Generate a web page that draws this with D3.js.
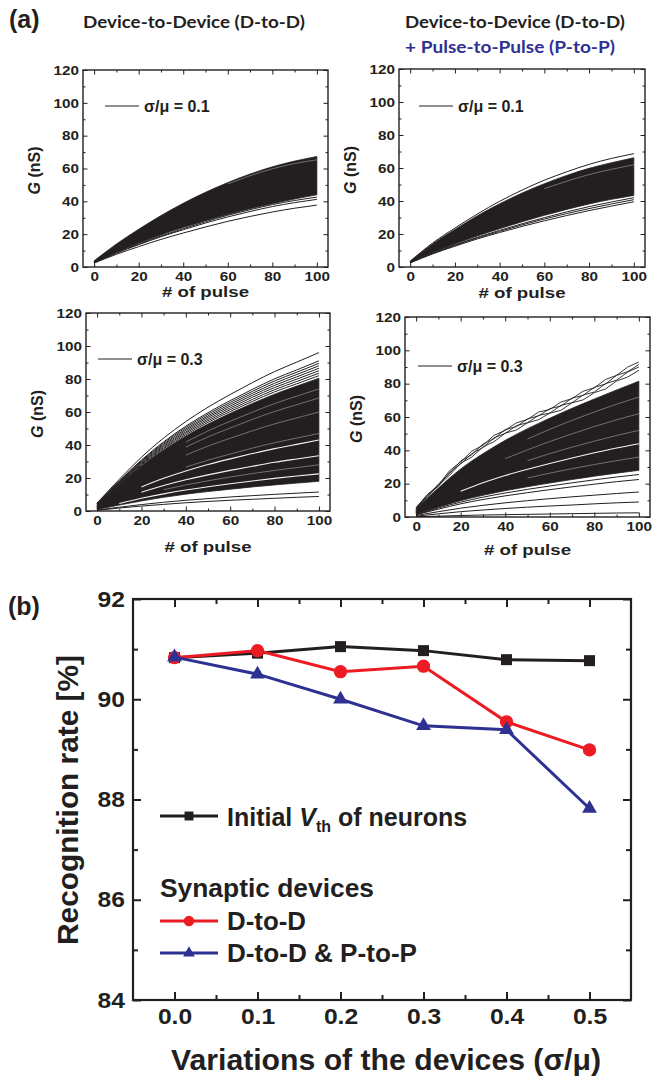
<!DOCTYPE html>
<html>
<head>
<meta charset="utf-8">
<script src="https://cdn.jsdelivr.net/npm/d3@7"></script>
<style>
  body { margin: 0; background: #fff; }
</style>
</head>
<body>
<div id="chart"></div>
<script>
// ---------- data ----------
const pulses = [0, 10, 20, 30, 40, 50, 60, 70, 80, 90, 100];
const pulsesFine = [0, 5, 10, 15, 20, 25, 30, 35, 40, 45, 50, 55, 60, 65, 70, 75, 80, 85, 90, 95, 100];
const xTicksTop = [0, 20, 40, 60, 80, 100];
const xMinorTop = [10, 30, 50, 70, 90];
const yTicksTop = [0, 20, 40, 60, 80, 100, 120];
const yMinorTop = [10, 30, 50, 70, 90, 110];

// D-to-D, sigma/mu = 0.1 : dense band + separated curves + white gaps
const dd1Upper = [3.8, 14, 23, 31.3, 38.8, 45.5, 51.4, 56.6, 61, 64.5, 67.3];
const dd1Lower = [2.8, 9, 14.5, 19.5, 24, 28.2, 32, 35.5, 38.6, 41.4, 44];
const dd1Lines = [
  [2.7, 8.7, 14, 18.9, 23.3, 27.6, 31.5, 34.9, 38, 40.5, 42.6],
  [2.6, 8.4, 13.6, 18.4, 22.7, 26.8, 30.5, 33.8, 36.8, 39.2, 41.2],
  [2.4, 7.7, 12.4, 16.8, 20.7, 24.4, 27.8, 30.8, 33.5, 35.8, 37.7]
];
const dd1Gaps = [
  [null, null, null, null, null, null, 50.6, 55.6, 59.8, 63, 65.3]
];

// D-to-D + P-to-P, sigma/mu = 0.1
const pp1Upper = [3.5, 14, 22.8, 31, 38.3, 44.8, 50.5, 55.5, 59.8, 63.2, 66.2];
const pp1Lower = [2.8, 8.8, 14, 18.8, 23.2, 27.4, 31.3, 34.9, 38.2, 41, 43.4];
const pp1Lines = [
  [3.5, 14.5, 23.6, 32.1, 39.8, 46.6, 52.6, 57.7, 62.2, 65.8, 68.7],
  [2.7, 8.4, 13.4, 18, 22.2, 26.2, 29.9, 33.4, 36.6, 39.4, 42],
  [2.6, 8.2, 13.1, 17.6, 21.6, 25.5, 29.1, 32.4, 35.4, 38.2, 40.8],
  [2.5, 7.9, 12.6, 17, 20.9, 24.6, 28, 31.2, 34.2, 36.9, 39.5]
];
const pp1Gaps = [
  [null, null, null, null, null, null, 47.5, 52, 56, 59.2, 62]
];

// D-to-D, sigma/mu = 0.3
const dd3Upper = [4, 16.1, 27.4, 37, 45.5, 52.7, 59.2, 65.2, 70.8, 75.7, 80.5];
const dd3Lower = [0.9, 3.6, 6.1, 8.3, 10.2, 11.8, 13.2, 14.6, 15.8, 16.9, 18];
const dd3Lines = [
  [4.8, 19.2, 32.6, 44.2, 54.2, 62.9, 70.6, 77.8, 84.5, 90.2, 96],
  [4.6, 18.2, 30.9, 41.9, 51.4, 59.6, 66.9, 73.7, 80.1, 85.5, 91],
  [4.5, 17.9, 30.4, 41.2, 50.6, 58.6, 65.8, 72.5, 78.8, 84.1, 89.5],
  [4.4, 17.6, 29.9, 40.5, 49.7, 57.6, 64.7, 71.3, 77.4, 82.7, 88],
  [4.3, 17.3, 29.4, 39.8, 48.9, 56.7, 63.6, 70.1, 76.1, 81.3, 86.5],
  [4.3, 17, 28.9, 39.1, 48, 55.7, 62.5, 68.9, 74.8, 79.9, 85],
  [4.2, 16.7, 28.4, 38.4, 47.2, 54.7, 61.4, 67.6, 73.5, 78.5, 83.5],
  [4.1, 16.4, 27.9, 37.7, 46.3, 53.7, 60.3, 66.4, 72.2, 77.1, 82],
  [0.6, 2.3, 3.9, 5.3, 6.5, 7.5, 8.5, 9.3, 10.1, 10.8, 11.5],
  [0.4, 1.8, 3, 4, 5, 5.8, 6.5, 7.1, 7.7, 8.3, 8.8]
];
// first three gaps are the clearly visible ones
const dd3Gaps = [
  [null, null, 14.6, 19.8, 24.3, 28.2, 31.6, 34.8, 37.8, 40.4, 43],
  [null, null, 11.4, 15.4, 18.9, 21.9, 24.6, 27.1, 29.5, 31.5, 33.5],
  [null, 4.5, 7.7, 10.4, 12.7, 14.7, 16.5, 18.2, 19.8, 21.2, 22.5],
  [null, null, null, null, 41.8, 48.5, 54.4, 59.9, 65.1, 69.6, 74],
  [null, null, null, null, 38.7, 44.9, 50.3, 55.5, 60.3, 64.4, 68.5],
  [null, null, null, null, 33.9, 39.3, 44.1, 48.6, 52.8, 56.4, 60],
  [null, null, null, null, 26.6, 30.8, 34.5, 38.1, 41.4, 44.2, 47],
  [null, null, null, 12.9, 15.8, 18.3, 20.6, 22.7, 24.6, 26.3, 28]
];

// D-to-D + P-to-P, sigma/mu = 0.3
const pp3Upper = [5, 17.4, 28.8, 38, 46, 53, 59.3, 65.2, 70.8, 76.2, 81.5];
const pp3Lower = [1.7, 5.9, 9.8, 13, 15.8, 18.2, 20.4, 22.5, 24.5, 26.3, 28];
const pp3Lines = [
  [1.5, 5.4, 8.9, 11.9, 14.4, 16.6, 18.6, 20.5, 22.3, 24, 25.5],
  [1.4, 4.7, 7.9, 10.5, 12.7, 14.6, 16.4, 18.1, 19.7, 21.2, 22.5],
  [0.9, 3.2, 5.3, 7, 8.5, 9.8, 11, 12.1, 13.1, 14.1, 15],
  [0.5, 1.9, 3.2, 4.2, 5.1, 5.9, 6.6, 7.2, 7.9, 8.5, 9],
  [0.2, 0.5, 0.9, 1.2, 1.4, 1.6, 1.8, 2, 2.2, 2.4, 2.5]
];
const pp3Gaps = [
  [null, null, 15.4, 20.5, 24.9, 28.6, 32.1, 35.4, 38.5, 41.4, 44],
  [null, null, null, null, null, 46.8, 52.6, 58, 63, 67.7, 72],
  [null, null, null, null, 35, 40.3, 45.3, 49.9, 54.3, 58.3, 62],
  [null, null, null, null, null, 33.8, 38, 41.9, 45.5, 48.9, 52],
  [null, null, null, null, null, 23.4, 26.3, 29, 31.5, 33.8, 36]
];
// noisy pulse-to-pulse outliers (every 5 pulses)
const pp3Jagged = [
  [5.6, 13.5, 19, 27.8, 33, 39.5, 43, 49, 52, 56.5, 58.5, 63, 64.5, 69, 71, 75.5, 77.5, 82.5, 85, 90, 93],
  [5.5, 12.2, 19.8, 26, 33.6, 37.4, 43.8, 47, 52.5, 54.2, 58.9, 60.7, 65, 66.6, 71.3, 73, 77.8, 79.8, 85, 87.2, 91.5],
  [5.4, 13.1, 18.4, 26.7, 31.9, 38, 41.7, 47.5, 50.2, 54.8, 56.6, 61, 62.3, 67, 68.6, 73.2, 75, 80, 82.1, 87, 90],
  [5.3, 11.8, 18.9, 25, 32.2, 36, 42, 45.2, 50.3, 52.2, 56.5, 58.4, 62.3, 64, 68.5, 70.3, 74.6, 76.8, 81.6, 84, 88]
];

// (b) recognition rate vs variation
const variation = [0.0, 0.1, 0.2, 0.3, 0.4, 0.5];
const vthRate = [90.83, 90.92, 91.05, 90.97, 90.79, 90.77];
const ddRate = [90.83, 90.97, 90.55, 90.66, 89.55, 88.99];
const ddppRate = [90.84, 90.50, 90.00, 89.47, 89.39, 87.82];
const xTicksB = [0.0, 0.1, 0.2, 0.3, 0.4, 0.5];
const xMinorB = [0.05, 0.15, 0.25, 0.35, 0.45];
const yTicksB = [84, 86, 88, 90, 92];
const yMinorB = [85, 87, 89, 91];

// ---------- drawing ----------
const INK = '#231F20';
const RED = '#ED1C24';
const BLUE = '#2E3192';
const ARIAL = '"Liberation Sans", Arial, Helvetica, sans-serif';
const CAL = 'Lato, "Open Sans", sans-serif';

const svg = d3.select('#chart').append('svg')
  .attr('width', 654)
  .attr('height', 1076)
  .style('display', 'block');

function stretch(sel, factor) {
  sel.each(function() {
    const w = this.getComputedTextLength();
    d3.select(this).attr('textLength', w * factor).attr('lengthAdjust', 'spacingAndGlyphs');
  });
}

const panels = [
  { left: 83, right: 328, top: 70, bottom: 267, upper: dd1Upper, lower: dd1Lower, lines: dd1Lines, gaps: dd1Gaps,
    strongGaps: 0, jagged: [], label: '\u03c3/\u03bc = 0.1', legX: 105, legY: 106, titleDy: 30 },
  { left: 399, right: 645, top: 69, bottom: 267, upper: pp1Upper, lower: pp1Lower, lines: pp1Lines, gaps: pp1Gaps,
    strongGaps: 0, jagged: [], label: '\u03c3/\u03bc = 0.1', legX: 419, legY: 106, titleDy: 31 },
  { left: 86, right: 330, top: 313, bottom: 511, upper: dd3Upper, lower: dd3Lower, lines: dd3Lines, gaps: dd3Gaps,
    strongGaps: 3, jagged: [], label: '\u03c3/\u03bc = 0.3', legX: 98, legY: 359, titleDy: 41 },
  { left: 405, right: 650, top: 317, bottom: 517, upper: pp3Upper, lower: pp3Lower, lines: pp3Lines, gaps: pp3Gaps,
    strongGaps: 1, jagged: pp3Jagged, label: '\u03c3/\u03bc = 0.3', legX: 418, legY: 366, titleDy: 38 }
];

function drawPanel(p) {
  const x = d3.scaleLinear().domain([-5, 105]).range([p.left, p.right]);
  const y = d3.scaleLinear().domain([0, 120]).range([p.bottom, p.top]);
  const g = svg.append('g');

  const band = pulses.map((v, i) => ({ p: v, lo: p.lower[i], hi: p.upper[i] }));
  g.append('path')
    .datum(band)
    .attr('d', d3.area().x(d => x(d.p)).y0(d => y(d.lo)).y1(d => y(d.hi)).curve(d3.curveNatural))
    .attr('fill', INK)
    .attr('stroke', INK)
    .attr('stroke-width', 0.8);

  const line = d3.line()
    .defined(d => d.v != null)
    .x(d => x(d.p))
    .y(d => y(d.v))
    .curve(d3.curveNatural);

  p.lines.forEach(arr => {
    g.append('path')
      .datum(arr.map((v, i) => ({ p: pulses[i], v })))
      .attr('d', line)
      .attr('fill', 'none')
      .attr('stroke', INK)
      .attr('stroke-width', 1);
  });

  p.gaps.forEach((arr, k) => {
    const strong = k < p.strongGaps;
    g.append('path')
      .datum(arr.map((v, i) => ({ p: pulses[i], v })))
      .attr('d', line)
      .attr('fill', 'none')
      .attr('stroke', '#fff')
      .attr('stroke-opacity', strong ? 0.95 : 0.6)
      .attr('stroke-width', strong ? 1.1 : 0.6);
  });

  const jline = d3.line().x(d => x(d.p)).y(d => y(d.v));
  p.jagged.forEach(arr => {
    g.append('path')
      .datum(arr.map((v, i) => ({ p: pulsesFine[i], v })))
      .attr('d', jline)
      .attr('fill', 'none')
      .attr('stroke', INK)
      .attr('stroke-width', 0.9);
  });

  // ticks on all four sides, pointing in
  const axes = [
    [d3.axisBottom(x).tickValues(xTicksTop), `translate(0,${p.bottom})`, true],
    [d3.axisBottom(x).tickValues(xMinorTop), `translate(0,${p.bottom})`, false, true],
    [d3.axisTop(x).tickValues(xTicksTop), `translate(0,${p.top})`, false],
    [d3.axisTop(x).tickValues(xMinorTop), `translate(0,${p.top})`, false, true],
    [d3.axisLeft(y).tickValues(yTicksTop), `translate(${p.left},0)`, true],
    [d3.axisLeft(y).tickValues(yMinorTop), `translate(${p.left},0)`, false, true],
    [d3.axisRight(y).tickValues(yTicksTop), `translate(${p.right},0)`, false],
    [d3.axisRight(y).tickValues(yMinorTop), `translate(${p.right},0)`, false, true]
  ];
  axes.forEach(([ax, tr, labels, minor]) => {
    ax.tickSize(minor ? -2.5 : -4.5).tickPadding(4);
    if (!labels) ax.tickFormat('');
    const ag = g.append('g').attr('transform', tr).call(ax);
    ag.select('.domain').remove();
    ag.selectAll('line').attr('stroke', INK).attr('stroke-width', 1);
    ag.selectAll('text')
      .attr('fill', INK)
      .attr('font-family', ARIAL)
      .attr('font-weight', 'bold')
      .attr('font-size', 13.5);
  });
  g.selectAll('text').filter(function() { return this.textContent.length; })
    .attr('textLength', function() { return this.textContent.length * 8.5; })
    .attr('lengthAdjust', 'spacingAndGlyphs');

  g.append('rect')
    .attr('x', p.left).attr('y', p.top)
    .attr('width', p.right - p.left).attr('height', p.bottom - p.top)
    .attr('fill', 'none')
    .attr('stroke', INK)
    .attr('stroke-width', 1.4);

  // axis titles
  g.append('text')
    .attr('x', (x(0) + x(100)) / 2)
    .attr('y', p.bottom + p.titleDy)
    .attr('text-anchor', 'middle')
    .attr('font-family', ARIAL).attr('font-weight', 'bold').attr('font-size', 15)
    .attr('fill', INK)
    .attr('textLength', 87).attr('lengthAdjust', 'spacingAndGlyphs')
    .text('# of pulse');

  const yl = g.append('text')
    .attr('transform', `translate(${p.left - 43},${(p.top + p.bottom) / 2 + 2}) rotate(-90)`)
    .attr('text-anchor', 'middle')
    .attr('font-family', ARIAL).attr('font-weight', 'bold').attr('font-size', 16)
    .attr('fill', INK);
  yl.append('tspan').attr('font-style', 'italic').text('G');
  yl.append('tspan').text(' (nS)');

  // legend
  g.append('line')
    .attr('x1', p.legX).attr('x2', p.legX + 34)
    .attr('y1', p.legY).attr('y2', p.legY)
    .attr('stroke', INK).attr('stroke-width', 1);
  g.append('text')
    .attr('x', p.legX + 39).attr('y', p.legY + 6)
    .attr('font-family', ARIAL).attr('font-weight', 'bold').attr('font-size', 16)
    .attr('fill', INK)
    .text(p.label);
}

panels.forEach(drawPanel);

// panel headings
svg.append('text').attr('x', 9).attr('y', 28)
  .attr('font-family', ARIAL).attr('font-weight', 'bold').attr('font-size', 25)
  .attr('fill', INK).text('(a)');
svg.append('text').attr('x', 83).attr('y', 28)
  .attr('font-family', CAL).attr('font-weight', 'bold').attr('font-size', 17)
  .attr('fill', INK).attr('textLength', 222).attr('lengthAdjust', 'spacingAndGlyphs')
  .text('Device-to-Device (D-to-D)');
svg.append('text').attr('x', 405).attr('y', 28)
  .attr('font-family', CAL).attr('font-weight', 'bold').attr('font-size', 17)
  .attr('fill', INK).attr('textLength', 220).attr('lengthAdjust', 'spacingAndGlyphs')
  .text('Device-to-Device (D-to-D)');
svg.append('text').attr('x', 405).attr('y', 53)
  .attr('font-family', CAL).attr('font-weight', 'bold').attr('font-size', 17)
  .attr('fill', BLUE).attr('textLength', 210).attr('lengthAdjust', 'spacingAndGlyphs')
  .text('+ Pulse-to-Pulse (P-to-P)');

// ---------- (b) ----------
const xb = d3.scaleLinear().domain([-0.05, 0.55]).range([133, 631]);
const yb = d3.scaleLinear().domain([84, 92]).range([1000, 599]);
const gb = svg.append('g');

const axesB = [
  [d3.axisBottom(xb).tickValues(xTicksB).tickFormat(d3.format('.1f')), 'translate(0,1000)', true],
  [d3.axisBottom(xb).tickValues(xMinorB), 'translate(0,1000)', false, true],
  [d3.axisTop(xb).tickValues(xTicksB), 'translate(0,599)', false],
  [d3.axisTop(xb).tickValues(xMinorB), 'translate(0,599)', false, true],
  [d3.axisLeft(yb).tickValues(yTicksB), 'translate(133,0)', true],
  [d3.axisLeft(yb).tickValues(yMinorB), 'translate(133,0)', false, true],
  [d3.axisRight(yb).tickValues(yTicksB), 'translate(631,0)', false],
  [d3.axisRight(yb).tickValues(yMinorB), 'translate(631,0)', false, true]
];
axesB.forEach(([ax, tr, labels, minor]) => {
  ax.tickSize(minor ? -5 : -8).tickPadding(8);
  if (!labels) ax.tickFormat('');
  const ag = gb.append('g').attr('transform', tr).call(ax);
  ag.select('.domain').remove();
  ag.selectAll('line').attr('stroke', INK).attr('stroke-width', 2);
  ag.selectAll('text')
    .attr('fill', INK)
    .attr('font-family', ARIAL)
    .attr('font-weight', 'bold')
    .attr('font-size', 22);
  if (labels) stretch(ag.selectAll('text'), 1.12);
});

gb.append('rect')
  .attr('x', 133).attr('y', 599)
  .attr('width', 631 - 133).attr('height', 1000 - 599)
  .attr('fill', 'none')
  .attr('stroke', INK)
  .attr('stroke-width', 2.2);

const series = [
  { values: vthRate, color: INK, symbol: d3.symbolSquare, size: 121 },
  { values: ddRate, color: RED, symbol: d3.symbolCircle, size: 140 },
  { values: ddppRate, color: BLUE, symbol: d3.symbolTriangle, size: 95 }
];
const lineB = d3.line().x(d => xb(d.v)).y(d => yb(d.r));
series.forEach(s => {
  const pts = variation.map((v, i) => ({ v, r: s.values[i] }));
  gb.append('path')
    .datum(pts)
    .attr('d', lineB)
    .attr('fill', 'none')
    .attr('stroke', s.color)
    .attr('stroke-width', 3);
  gb.selectAll(null)
    .data(pts)
    .enter()
    .append('path')
    .attr('transform', d => `translate(${xb(d.v)},${yb(d.r)})`)
    .attr('d', d3.symbol().type(s.symbol).size(s.size))
    .attr('fill', s.color);
});

// legend (b)
const legB = [
  { y: 816, color: INK, symbol: d3.symbolSquare, size: 80 },
  { y: 921, color: RED, symbol: d3.symbolCircle, size: 85 },
  { y: 953, color: BLUE, symbol: d3.symbolTriangle, size: 60 }
];
legB.forEach(l => {
  gb.append('line')
    .attr('x1', 160).attr('x2', 218)
    .attr('y1', l.y).attr('y2', l.y)
    .attr('stroke', l.color).attr('stroke-width', 3);
  gb.append('path')
    .attr('transform', `translate(189,${l.y})`)
    .attr('d', d3.symbol().type(l.symbol).size(l.size))
    .attr('fill', l.color);
});

const t1 = gb.append('text').attr('x', 227).attr('y', 826)
  .attr('font-family', ARIAL).attr('font-weight', 'bold').attr('font-size', 25).attr('fill', INK);
t1.append('tspan').text('Initial ');
t1.append('tspan').attr('font-style', 'italic').text('V');
t1.append('tspan').attr('font-size', 16).attr('dy', 6).text('th');
t1.append('tspan').attr('dy', -6).text(' of neurons');

gb.append('text').attr('x', 160).attr('y', 897)
  .attr('font-family', ARIAL).attr('font-weight', 'bold').attr('font-size', 25).attr('fill', INK)
  .attr('textLength', 214).attr('lengthAdjust', 'spacingAndGlyphs')
  .text('Synaptic devices');
gb.append('text').attr('x', 227).attr('y', 930)
  .attr('font-family', ARIAL).attr('font-weight', 'bold').attr('font-size', 25).attr('fill', INK)
  .attr('textLength', 79).attr('lengthAdjust', 'spacingAndGlyphs')
  .text('D-to-D');
gb.append('text').attr('x', 227).attr('y', 962)
  .attr('font-family', ARIAL).attr('font-weight', 'bold').attr('font-size', 25).attr('fill', INK)
  .attr('textLength', 190).attr('lengthAdjust', 'spacingAndGlyphs')
  .text('D-to-D & P-to-P');

// axis titles (b)
gb.append('text').attr('x', 386).attr('y', 1070)
  .attr('text-anchor', 'middle')
  .attr('font-family', ARIAL).attr('font-weight', 'bold').attr('font-size', 29).attr('fill', INK)
  .attr('textLength', 430).attr('lengthAdjust', 'spacingAndGlyphs')
  .text('Variations of the devices (\u03c3/\u03bc)');
gb.append('text')
  .attr('transform', 'translate(78,800) rotate(-90)')
  .attr('text-anchor', 'middle')
  .attr('font-family', ARIAL).attr('font-weight', 'bold').attr('font-size', 30).attr('fill', INK)
  .attr('textLength', 290).attr('lengthAdjust', 'spacingAndGlyphs')
  .text('Recognition rate [%]');

svg.append('text').attr('x', 8).attr('y', 615)
  .attr('font-family', ARIAL).attr('font-weight', 'bold').attr('font-size', 25)
  .attr('fill', INK).text('(b)');
</script>
</body>
</html>
